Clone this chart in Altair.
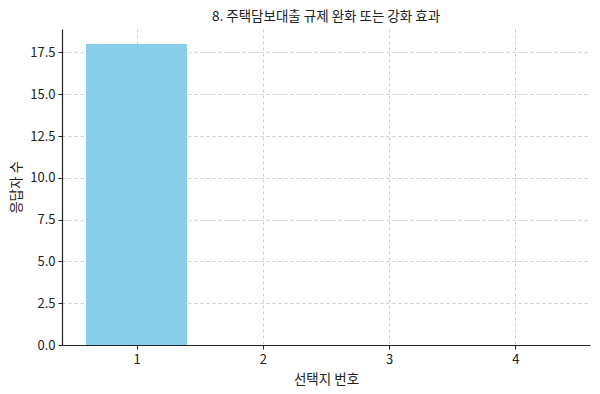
import altair as alt
import pandas as pd

choices = [1, 2, 3, 4]
counts = [18, 0, 0, 0]
title_text = "8. 주택담보대출 규제 완화 또는 강화 효과"
x_title = "선택지 번호"
y_title = "응답자 수"

df = pd.DataFrame({"choice": choices, "count": counts})

FONT = "Noto Sans CJK KR"

base = alt.Chart(df).transform_calculate(
    x0="datum.choice - 0.4", x1="datum.choice + 0.4", zero="0"
)

bars = base.mark_bar(color="#87CEEB", opacity=1).encode(
    x=alt.X("x0:Q", scale=alt.Scale(domain=[0.41, 4.59], nice=False, zero=False),
            axis=alt.Axis(values=choices, format="d", title=x_title, grid=True,
                          gridDash=[3, 3], gridColor="#cccccc", domainColor="#222222",
                          tickColor="#222222", tickSize=4, labelFontSize=13,
                          titleFontSize=13.5, titleFontWeight="normal", labelPadding=4,
                          titlePadding=6, labelColor="#222222", titleColor="#222222",
                          labelFont=FONT, titleFont=FONT)),
    x2="x1:Q",
    y=alt.Y("count:Q", scale=alt.Scale(domain=[0, 18.9], nice=False),
            axis=alt.Axis(values=[0, 2.5, 5, 7.5, 10, 12.5, 15, 17.5], format=".1f",
                          title=y_title, grid=True, gridDash=[3, 3], gridColor="#cccccc",
                          domainColor="#222222", tickColor="#222222", tickSize=4,
                          labelFontSize=13, titleFontSize=13.5, titleFontWeight="normal",
                          labelPadding=3, titlePadding=6, labelColor="#222222",
                          titleColor="#222222", labelFont=FONT, titleFont=FONT)),
    y2="zero:Q",
)

chart = bars.properties(
    width=528,
    height=316,
    title=alt.TitleParams(title_text, font=FONT, fontSize=13.5, fontWeight="normal",
                          color="#222222", anchor="middle", offset=6),
    autosize=alt.AutoSizeParams(type="none"),
    padding={"left": 62, "top": 29, "right": 10, "bottom": 49},
).configure_view(stroke=None).configure_axis(domainWidth=1.2)

chart.save("out.html", embed_options={"renderer": "svg", "actions": False})
